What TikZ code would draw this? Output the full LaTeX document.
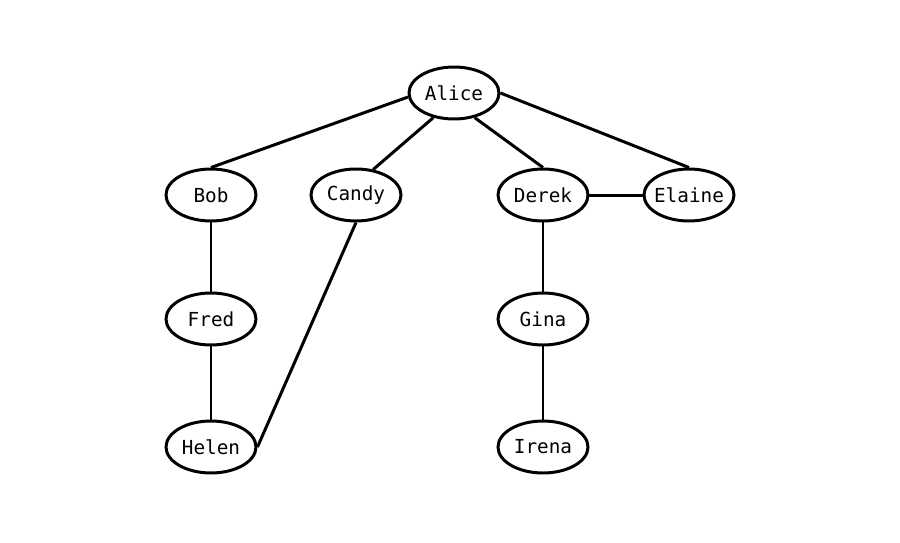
\documentclass[tikz,border=0pt]{standalone}
\usepackage{fontspec}
\setmonofont{DejaVu Sans Mono}
\usetikzlibrary{shapes.geometric}

\begin{document}
\begin{tikzpicture}[x=0.02cm,y=-0.02cm,line width=1.7pt,
  person/.style={draw,ellipse,inner sep=-3pt,minimum width=1.8cm,minimum height=1.04cm,
    font=\ttfamily\fontsize{11}{13}\selectfont}]
\useasboundingbox (0,0) rectangle (900,542);
% people
\node[person] (alice)  at (454,93)  {Alice};
\node[person] (bob)    at (211,195) {Bob};
\node[person] (candy)  at (356,195) {Candy};
\node[person] (derek)  at (543,195) {Derek};
\node[person] (elaine) at (689,195) {Elaine};
\node[person] (fred)   at (211,319) {Fred};
\node[person] (gina)   at (543,319) {Gina};
\node[person] (helen)  at (211,447) {Helen};
\node[person] (irena)  at (543,447) {Irena};
% links
\draw (alice.185) -- (bob.north);
\draw (alice.230) -- (candy.56);
\draw (alice.310) -- (derek.north);
\draw (alice.east) -- (elaine.north);
\draw (derek) -- (elaine);
\draw (bob) -- (fred);
\draw (fred) -- (helen);
\draw (candy.south) -- (helen.east);
\draw (derek) -- (gina);
\draw (gina) -- (irena);
\end{tikzpicture}
\end{document}
